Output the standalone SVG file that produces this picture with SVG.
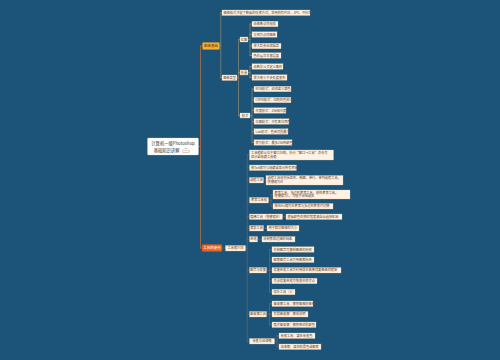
<svg xmlns="http://www.w3.org/2000/svg" width="500" height="360" viewBox="0 0 500 360">
<style>
text{font-family:"Noto Sans CJK SC","Noto Sans",sans-serif;}
.bg{fill:#1b5379;}
.leaf{fill:#fdf2e4;stroke:#e2c095;stroke-width:0.3;}
.lt{font-size:3.2px;fill:#6b4226;}
.ct{font-size:3.2px;fill:#6b4226;text-anchor:middle;}
.c0{fill:none;stroke:#c4703c;stroke-width:0.7;stroke-linecap:round;}
.c1{fill:none;stroke:#c9a268;stroke-width:0.5;stroke-linecap:round;}
.c2{fill:none;stroke:#9a6f5c;stroke-width:0.5;stroke-linecap:round;}
</style>
<rect class="bg" x="0" y="0" width="500" height="360"/>

<g id="connectors">
  <path class="c0" d="M198.5 146.5H200.5M200.5 46V248M200.5 46H202.5M200.5 248H202"/>
  <!-- branch 1 -->
  <path class="c1" d="M219.5 46H220.8M220.8 12.75V77.75M220.8 12.75H222M220.8 77.75H222"/>
  <path class="c1" d="M237 77.75H238.5M238.5 39.5V115.5M238.5 39.5H240M238.5 72.5H240M238.5 115.5H240"/>
  <path class="c1" d="M248 39.5H250M250 24V55.5M250 24H252M250 34.5H252M250 46H252M250 55.5H252"/>
  <path class="c1" d="M248 72.5H250M250 66.5V77.5M250 66.5H252M250 77.5H252"/>
  <path class="c1" d="M250 115.5H252M252 89V142.5M252 89H254M252 100H254M252 110.5H254M252 121.5H254M252 131.5H254M252 142.5H254"/>
  <!-- branch 2 -->
  <path class="c2" d="M222 248H225.5"/>
  <path class="c2" d="M245.5 248.25H247.2M247.2 155V341.25M247.2 155H249.5M247.2 167.75H249.5M247.2 180.25H249.5M247.2 200.25H249.5M247.2 216.75H249.5M247.2 228.25H249.5M247.2 239.25H249.5M247.2 270.25H249.5M247.2 314.25H249.5M247.2 341.25H249.5"/>
  <path class="c2" d="M263.5 180.25H266"/>
  <path class="c2" d="M268.5 200.25H271M271 194.5V206.25M271 194.5H273M271 206.25H273"/>
  <path class="c2" d="M282.5 216.75H286"/>
  <path class="c2" d="M263.5 228.25H267"/>
  <path class="c2" d="M257.5 239.25H262"/>
  <path class="c2" d="M266.5 270.25H269.5M269.5 249.5V292M269.5 249.5H272M269.5 259.75H272M269.5 270.25H272M269.5 281H272M269.5 292H272"/>
  <path class="c2" d="M266.5 314.25H269.5M269.5 303.75V324.75M269.5 303.75H272M269.5 324.75H272M269.5 314.25H272"/>
  <path class="c2" d="M274.5 341.25H277M277 335.75V346.75M277 335.75H279M277 346.75H279"/>
</g>

<g id="root">
  <rect x="147.5" y="138" width="51" height="17" rx="1" fill="#ffffff" stroke="#d0d0d0" stroke-width="0.3"/>
  <text x="173" y="145" font-size="4.3" fill="#333" text-anchor="middle">计算机一级Photoshop</text>
  <text x="173" y="151.5" font-size="4.3" fill="#333" text-anchor="middle">基础知识讲解（三）</text>
</g>

<!-- Branch 1 -->
<g id="b1">
  <rect x="202.5" y="42.5" width="17" height="7" rx="0.8" fill="#f4b13a" stroke="#d08a1a" stroke-width="0.4"/>
  <text x="211" y="47.3" font-size="3.5" fill="#6b3a00" text-anchor="middle">图像基础</text>
</g>
<g id="b1-l0"><rect class="leaf" x="222" y="10" width="88" height="5.5"/><text class="lt" x="223.5" y="13.85">图像格式决定了数据的存储方式，常用的有PSD、JPG、PNG等</text></g>
<g id="b1-n1"><rect class="leaf" x="222" y="75" width="15" height="5.5"/><text class="ct" x="229.5" y="78.85">图像类型</text></g>
<g id="b1-na"><rect class="leaf" x="240" y="37" width="8" height="5"/><text class="ct" x="244" y="40.6">位图</text></g>
<g id="b1-na1"><rect class="leaf" x="252" y="21.25" width="26" height="5.5"/><text class="lt" x="253.5" y="25.1">由像素点阵组成</text></g>
<g id="b1-na2"><rect class="leaf" x="252" y="31.75" width="25" height="5.5"/><text class="lt" x="253.5" y="35.6">又称为点阵图像</text></g>
<g id="b1-na3"><rect class="leaf" x="252" y="43.25" width="29" height="5.5"/><text class="lt" x="253.5" y="47.1">放大后会出现锯齿</text></g>
<g id="b1-na4"><rect class="leaf" x="252" y="52.75" width="29" height="5.5"/><text class="lt" x="253.5" y="56.6">色彩层次丰富逼真</text></g>
<g id="b1-nb"><rect class="leaf" x="240" y="70" width="8" height="5"/><text class="ct" x="244" y="73.6">矢量</text></g>
<g id="b1-nb1"><rect class="leaf" x="252" y="63.75" width="31" height="5.5"/><text class="lt" x="253.5" y="67.6">由数学公式定义图形</text></g>
<g id="b1-nb2"><rect class="leaf" x="252" y="74.75" width="35" height="5.5"/><text class="lt" x="253.5" y="78.6">放大缩小不会失真变形</text></g>
<g id="b1-nc"><rect class="leaf" x="240" y="113" width="10" height="5"/><text class="ct" x="245" y="116.6">模式</text></g>
<g id="b1-nc1"><rect class="leaf" x="254" y="86.25" width="37" height="5.5"/><text class="lt" x="255.5" y="90.1">RGB模式：红绿蓝三原色</text></g>
<g id="b1-nc2"><rect class="leaf" x="254" y="97.25" width="37" height="5.5"/><text class="lt" x="255.5" y="101.1">CMYK模式：印刷四色模式</text></g>
<g id="b1-nc3"><rect class="leaf" x="254" y="107.75" width="32" height="5.5"/><text class="lt" x="255.5" y="111.6">灰度模式：256级灰度</text></g>
<g id="b1-nc4"><rect class="leaf" x="254" y="118.75" width="35" height="5.5"/><text class="lt" x="255.5" y="122.6">位图模式：只有黑白两色</text></g>
<g id="b1-nc5"><rect class="leaf" x="254" y="128.75" width="34" height="5.5"/><text class="lt" x="255.5" y="132.6">Lab模式：色域范围最广</text></g>
<g id="b1-nc6"><rect class="leaf" x="254" y="139.75" width="38" height="5.5"/><text class="lt" x="255.5" y="143.6">索引模式：最多256种颜色</text></g>

<!-- Branch 2 -->
<g id="b2">
  <rect x="202" y="244.5" width="20" height="7" rx="0.8" fill="#e8641e" stroke="#c84c10" stroke-width="0.4"/>
  <text x="212" y="249.3" font-size="3.5" fill="#ffffff" text-anchor="middle">工具的使用</text>
</g>
<g id="b2-n"><rect class="leaf" x="225.5" y="245.5" width="20" height="5.5"/><text class="ct" x="235.5" y="249.35">工具箱介绍</text></g>
<g id="b2-1"><rect class="leaf" x="249.5" y="150" width="84" height="10"/><text class="lt" x="251" y="154.2">工具箱默认位于窗口左侧，执行“窗口→工具”命令可</text><text class="lt" x="251" y="158.1">显示或隐藏工具箱</text></g>
<g id="b2-2"><rect class="leaf" x="249.5" y="165" width="47" height="5.5"/><text class="lt" x="251" y="168.85">按Tab键可以隐藏或显示所有面板</text></g>
<g id="b2-3"><rect class="leaf" x="249.5" y="177.5" width="14" height="5.5"/><text class="ct" x="256.5" y="181.35">选框工具</text></g>
<g id="b2-3a"><rect class="leaf" x="266" y="175.5" width="77" height="9.5"/><text class="lt" x="267.5" y="179.3">选框工具组包括矩形、椭圆、单行、单列选框工具，</text><text class="lt" x="267.5" y="183.1">快捷键为M</text></g>
<g id="b2-4"><rect class="leaf" x="249.5" y="197.5" width="19" height="5.5"/><text class="ct" x="259" y="201.35">套索工具组</text></g>
<g id="b2-4a"><rect class="leaf" x="273" y="190" width="77" height="9"/><text class="lt" x="274.5" y="193.6">套索工具、多边形套索工具、磁性套索工具，</text><text class="lt" x="274.5" y="197.4">快捷键为L，可徒手绘制选区</text></g>
<g id="b2-4b"><rect class="leaf" x="273" y="203.5" width="60" height="5.5"/><text class="lt" x="274.5" y="207.35">按住Alt键可在套索与多边形套索间切换</text></g>
<g id="b2-5"><rect class="leaf" x="249.5" y="214" width="33" height="5.5"/><text class="ct" x="266" y="217.85">魔棒工具（快捷键W）</text></g>
<g id="b2-5a"><rect class="leaf" x="286" y="214" width="56" height="5.5"/><text class="lt" x="287.5" y="217.85">根据颜色的相近程度来自动选择区域</text></g>
<g id="b2-6"><rect class="leaf" x="249.5" y="225.5" width="14" height="5.5"/><text class="ct" x="256.5" y="229.35">裁剪工具</text></g>
<g id="b2-6a"><rect class="leaf" x="267" y="225.5" width="32" height="5.5"/><text class="lt" x="268.5" y="229.35">用于裁切图像的大小</text></g>
<g id="b2-7"><rect class="leaf" x="249.5" y="236.5" width="8" height="5.5"/><text class="ct" x="253.5" y="240.35">画笔</text></g>
<g id="b2-7a"><rect class="leaf" x="262" y="236.5" width="33" height="5.5"/><text class="lt" x="263.5" y="240.35">绘制柔和边缘的线条</text></g>
<g id="b2-8"><rect class="leaf" x="249.5" y="267.5" width="17" height="5.5"/><text class="ct" x="258" y="271.35">图章与修复</text></g>
<g id="b2-8a"><rect class="leaf" x="272" y="246.75" width="42" height="5.5"/><text class="lt" x="273.5" y="250.6">仿制图章可复制图像的局部</text></g>
<g id="b2-8b"><rect class="leaf" x="272" y="257" width="42" height="5.5"/><text class="lt" x="273.5" y="260.85">图案图章工具可用图案绘画</text></g>
<g id="b2-8c"><rect class="leaf" x="272" y="267.5" width="69" height="5.5"/><text class="lt" x="273.5" y="271.35">修复画笔工具可利用样本像素修复图像的瑕疵</text></g>
<g id="b2-8d"><rect class="leaf" x="272" y="278.25" width="45" height="5.5"/><text class="lt" x="273.5" y="282.1">污点修复画笔可快速去除污点</text></g>
<g id="b2-8e"><rect class="leaf" x="272" y="289.25" width="23" height="5.5"/><text class="lt" x="273.5" y="293.1">修补工具（J）</text></g>
<g id="b2-9"><rect class="leaf" x="249.5" y="311.5" width="17" height="5.5"/><text class="ct" x="258" y="315.35">橡皮擦工具</text></g>
<g id="b2-9a"><rect class="leaf" x="272" y="301" width="41" height="5.5"/><text class="lt" x="273.5" y="304.85">橡皮擦工具：擦除图像的像素</text></g>
<g id="b2-9b"><rect class="leaf" x="272" y="311.5" width="36" height="5.5"/><text class="lt" x="273.5" y="315.35">背景橡皮擦：擦成透明</text></g>
<g id="b2-9c"><rect class="leaf" x="272" y="322" width="44" height="5.5"/><text class="lt" x="273.5" y="325.85">魔术橡皮擦：擦除相近的颜色</text></g>
<g id="b2-10"><rect class="leaf" x="249.5" y="338.5" width="25" height="5.5"/><text class="ct" x="262" y="342.35">渐变与油漆桶</text></g>
<g id="b2-10a"><rect class="leaf" x="279" y="333" width="36" height="5.5"/><text class="lt" x="280.5" y="336.85">渐变工具：填充渐变色</text></g>
<g id="b2-10b"><rect class="leaf" x="279" y="344" width="42" height="5.5"/><text class="lt" x="280.5" y="347.85">油漆桶：填充前景色或图案</text></g>
</svg>
